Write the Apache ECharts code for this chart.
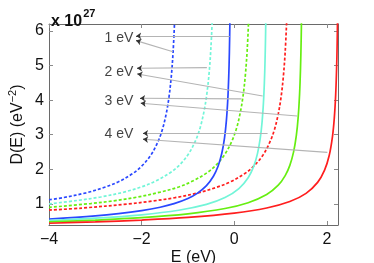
<!DOCTYPE html>
<html><head><meta charset="utf-8">
<script src="https://cdn.jsdelivr.net/npm/echarts@6/dist/echarts.min.js"></script>
<style>html,body{margin:0;padding:0;background:#fff}#c{width:374px;height:263px}</style>
</head><body><div id="c"></div>
<script>
// tick labels
const xTicks = [-4, -2, 0, 2];
const yTicks = [1, 2, 3, 4, 5, 6];
// D(E) in units of 1e27 eV^-2, E in eV
const blueDashE = [-4, -3.7, -3.2, -2.8, -2.5, -2.2, -2.0, -1.8, -1.65, -1.55, -1.47, -1.41, -1.36, -1.32, -1.29];
const blueDashD = [1.12, 1.18, 1.32, 1.48, 1.64, 1.87, 2.09, 2.41, 2.79, 3.16, 3.60, 4.08, 4.68, 5.40, 6.23];
const cyanDashE = [-4, -3.385, -2.885, -2.385, -1.985, -1.685, -1.385, -1.185, -0.985, -0.835, -0.735, -0.655, -0.595, -0.545, -0.505, -0.475];
const cyanDashD = [1.0, 1.10, 1.20, 1.34, 1.50, 1.67, 1.90, 2.12, 2.45, 2.83, 3.21, 3.66, 4.15, 4.75, 5.49, 6.33];
const greenDashE = [-4, -3.1, -2.6, -2.1, -1.6, -1.2, -0.9, -0.6, -0.4, -0.2, -0.05, 0.05, 0.13, 0.19, 0.24, 0.28, 0.31];
const greenDashD = [0.90, 1.01, 1.09, 1.195, 1.34, 1.49, 1.66, 1.89, 2.11, 2.44, 2.82, 3.19, 3.64, 4.12, 4.73, 5.46, 6.30];
const redDashE = [-4, -3.28, -2.28, -1.78, -1.28, -0.78, -0.38, -0.08, 0.22, 0.42, 0.62, 0.77, 0.87, 0.95, 1.01, 1.06, 1.10, 1.132];
const redDashD = [0.82, 0.88, 1.0, 1.08, 1.18, 1.32, 1.48, 1.64, 1.87, 2.09, 2.41, 2.79, 3.16, 3.60, 4.08, 4.68, 5.40, 6.30];
const blueE = [-4, -3, -2.5, -2, -1.6, -1.3, -1.0, -0.8, -0.6, -0.45, -0.35, -0.27, -0.21, -0.17, -0.14, -0.12, -0.105, -0.093];
const blueD = [0.564, 0.653, 0.717, 0.805, 0.903, 1.007, 1.156, 1.304, 1.527, 1.798, 2.087, 2.456, 2.911, 3.408, 4.01, 4.65, 5.40, 6.36];
const cyanE = [-4, -3, -2, -1.2, -0.6, -0.2, 0.1, 0.3, 0.42, 0.5, 0.56, 0.6, 0.63, 0.65, 0.665, 0.675, 0.681];
const cyanD = [0.520, 0.586, 0.685, 0.816, 0.985, 1.182, 1.442, 1.757, 2.086, 2.446, 2.886, 3.358, 3.919, 4.498, 5.153, 5.79, 6.31];
const greenE = [-4, -3, -2, -1, -0.2, 0.3, 0.7, 0.95, 1.1, 1.2, 1.28, 1.34, 1.38, 1.41, 1.43, 1.445, 1.452];
const greenD = [0.480, 0.531, 0.602, 0.713, 0.866, 1.033, 1.270, 1.540, 1.816, 2.113, 2.495, 2.972, 3.502, 4.160, 4.882, 5.766, 6.38];
const redE = [-4, -3, -2, -1, 0, 0.7, 1.2, 1.55, 1.8, 1.95, 2.05, 2.12, 2.16, 2.19, 2.21, 2.222, 2.232];
const redD = [0.440, 0.480, 0.533, 0.609, 0.732, 0.881, 1.068, 1.305, 1.622, 1.976, 2.400, 2.940, 3.479, 4.158, 4.919, 5.643, 6.57];
// annotations: label text, label anchor (E, D), arrow tails on curves and arrow tips
const noteLabels = ['1 eV', '2 eV', '3 eV', '4 eV'];
const noteAnchorE = [-2.18, -2.18, -2.18, -2.18];
const noteAnchorD = [5.80, 4.815, 3.977, 3.02];
const arrowFromE = [-0.097, -1.323, -0.591, 0.613, 0.155, 1.36, 0.72, 2.01];
const arrowFromD = [5.855, 5.40, 4.94, 4.12, 4.035, 3.54, 3.04, 2.49];
const arrowToE = [-2.118, -2.118, -2.097, -2.09, -2.032, -2.017, -1.968, -1.968];
const arrowToD = [5.855, 5.72, 4.92, 4.757, 4.055, 3.91, 3.04, 2.87];

const BLUE = '#2a48ff', CYAN = '#72f5d8', GREEN = '#66ee11', RED = '#ff1e1e';
const FONT = 'Liberation Sans, Arial, Helvetica, sans-serif';
const zip = (a, b) => a.map((v, i) => [v, b[i]]);
function curve(name, E, D, color, dashed) {
  return {
    name, type: 'line', data: zip(E, D), smooth: 0.35, showSymbol: false,
    xAxisIndex: 0, yAxisIndex: 0, clip: true,
    lineStyle: { color, width: 1.7, type: dashed ? [3, 2] : 'solid' }, z: 3
  };
}
const minus = v => String(v).replace('-', '\u2212');
const axisCommon = {
  type: 'value', splitLine: { show: false },
  axisLine: { show: true, onZero: false, lineStyle: { color: '#6a6a6a', width: 1 } },
  axisTick: { show: true, inside: true, length: 4, lineStyle: { color: '#8a8a8a' } }
};
const shafts = arrowFromE.map((e, i) => ({ coords: [[e, arrowFromD[i]], [arrowToE[i], arrowToD[i]]] }));
const heads = arrowFromE.map((e, i) => {
  const dx = e - arrowToE[i], dy = arrowFromD[i] - arrowToD[i];
  const L = Math.hypot(dx, dy * 0.4);
  const f = 0.08 / L;
  return { coords: [[arrowToE[i] + dx * f, arrowToD[i] + dy * f], [arrowToE[i], arrowToD[i]]] };
});

const chart = echarts.init(document.getElementById('c'), null, { renderer: 'canvas' });
chart.setOption({
  animation: false,
  backgroundColor: '#fff',
  textStyle: { fontFamily: FONT },
  title: {
    text: '{a|x 10}{b|27}', left: 46, top: 3,
    textStyle: { rich: {
      a: { fontSize: 16, fontFamily: FONT, color: '#111', lineHeight: 22, verticalAlign: 'bottom' },
      b: { fontSize: 11, fontFamily: FONT, color: '#111', lineHeight: 22, verticalAlign: 'top', padding: [0, 0, 0, 1] }
    } }
  },
  grid: { left: 49, right: 36, top: 24, bottom: 38, containLabel: false, outerBoundsMode: 'none' },
  xAxis: [
    Object.assign({}, axisCommon, {
      min: -4, max: 2.24, position: 'bottom',
      axisTick: Object.assign({}, axisCommon.axisTick, { customValues: xTicks }),
      axisLabel: { customValues: xTicks, formatter: minus, fontSize: 16, color: '#111', margin: 7, fontFamily: FONT },
      name: 'E (eV)', nameLocation: 'middle', nameGap: 25, nameMoveOverlap: false,
      nameTextStyle: { fontSize: 16, color: '#111', fontFamily: FONT }
    }),
    Object.assign({}, axisCommon, {
      min: -4, max: 2.24, position: 'top',
      axisTick: Object.assign({}, axisCommon.axisTick, { customValues: xTicks }),
      axisLabel: { show: false }
    })
  ],
  yAxis: [
    Object.assign({}, axisCommon, {
      min: 0.39, max: 6.2, position: 'left',
      axisTick: Object.assign({}, axisCommon.axisTick, { customValues: yTicks }),
      axisLabel: { customValues: yTicks, fontSize: 16, color: '#111', margin: 5, fontFamily: FONT },
      name: 'D(E) (eV{s|\u22122})', nameLocation: 'middle', nameGap: 20, nameRotate: 90, nameMoveOverlap: false,
      nameTextStyle: { fontSize: 16, color: '#111', fontFamily: FONT,
        rich: { s: { fontSize: 11, color: '#111', fontFamily: FONT, verticalAlign: 'top', lineHeight: 22 } } }
    }),
    Object.assign({}, axisCommon, {
      min: 0.39, max: 6.2, position: 'right',
      axisTick: Object.assign({}, axisCommon.axisTick, { customValues: yTicks }),
      axisLabel: { show: false }
    })
  ],
  series: [
    curve('1 eV dashed', blueDashE, blueDashD, BLUE, true),
    curve('2 eV dashed', cyanDashE, cyanDashD, CYAN, true),
    curve('3 eV dashed', greenDashE, greenDashD, GREEN, true),
    curve('4 eV dashed', redDashE, redDashD, RED, true),
    curve('1 eV', blueE, blueD, BLUE, false),
    curve('2 eV', cyanE, cyanD, CYAN, false),
    curve('3 eV', greenE, greenD, GREEN, false),
    curve('4 eV', redE, redD, RED, false),
    { type: 'lines', coordinateSystem: 'cartesian2d', xAxisIndex: 0, yAxisIndex: 0, z: 4,
      symbol: 'none', lineStyle: { color: '#b4b4b4', width: 1.1, opacity: 1 }, data: shafts },
    { type: 'lines', coordinateSystem: 'cartesian2d', xAxisIndex: 0, yAxisIndex: 0, z: 5,
      symbol: ['none', 'arrow'], symbolSize: [0, 5], lineStyle: { color: '#333', width: 1, opacity: 1 }, data: heads },
    { type: 'scatter', xAxisIndex: 0, yAxisIndex: 0, symbolSize: 0, z: 6,
      data: noteLabels.map((t, i) => ({ value: [noteAnchorE[i], noteAnchorD[i]], name: t })),
      label: { show: true, position: 'left', distance: 0, formatter: p => p.name,
        fontSize: 14, color: '#111', fontFamily: FONT } }
  ]
});
</script></body></html>
